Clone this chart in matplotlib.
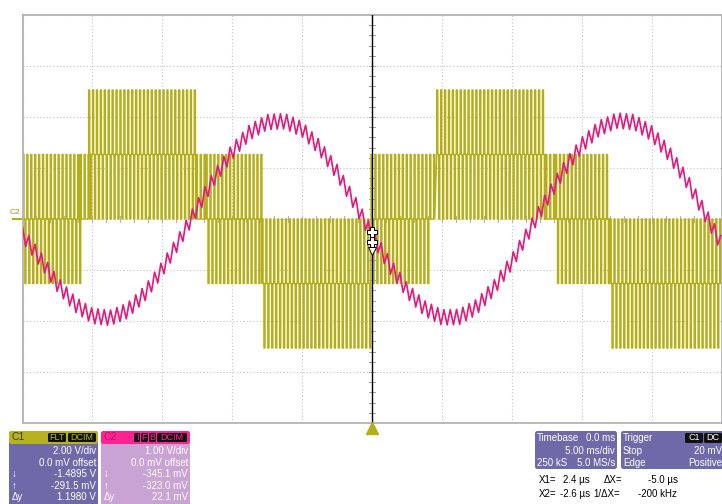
"""Oscilloscope capture: 5-level inverter output (C1) and line current (C2)."""

import matplotlib.pyplot as plt
import numpy as np
from matplotlib.patches import FancyBboxPatch

plt.rcParams["font.family"] = ["Liberation Sans", "DejaVu Sans"]

# scope settings
C1_VOLTS_PER_DIV = 2.0
C2_VOLTS_PER_DIV = 1.0
MS_PER_DIV = 5.0

# C2 (magenta) every 1.25 ms
c2_time_ms = np.arange(-25.0, 25.01, 1.25)
c2_volts = [
    -0.30, -0.78, -1.28, -1.67, -1.90, -1.94, -1.80, -1.46, -0.98, -0.40,
    0.22, 0.82, 1.32, 1.70, 1.90, 1.92, 1.76, 1.40, 0.92, 0.32,
    -0.31, -0.90, -1.40, -1.75, -1.93, -1.92, -1.72, -1.34, -0.84, -0.23,
    0.39, 0.98, 1.45, 1.78, 1.93, 1.90, 1.68, 1.28, 0.76, 0.14,
    -0.50,
]
c2_ripple_v = 0.15
c2_ripple_period_ms = 0.45

# C1 (olive) switching pattern, one row per segment of the screen
c1_level_v = 2.53
c1_seg_start_ms = [-25.0, -20.9, -20.3, -12.6, -11.9, -7.9,
                   -0.1, 4.1, 4.6, 12.4, 13.1, 17.0]
c1_seg_end_ms = c1_seg_start_ms[1:] + [25.0]
c1_seg_base = [0, 0, 1, 0, 0, -1, 0, 0, 1, 0, 0, -1]
c1_seg_up = [1, 1, 2, 1, 1, 0, 1, 1, 2, 1, 1, 0]
c1_seg_down = [-1, 0, 0, 0, -1, -2, -1, 0, 0, 0, -1, -2]
c1_switch_period_ms = 0.28
c1_pulse_ms = 0.08

OLIVE = "#b5ae16"
PINK = "#e3197b"
PANEL = "#6e6aaa"
LILAC = "#c9a3d3"

W, H = 722, 504
fig = plt.figure(figsize=(W / 100, H / 100), dpi=100)
ax = fig.add_axes([22.5 / W, 1 - 423 / H, 699 / W, 408 / H])
ax.set_xlim(-5 * MS_PER_DIV, 5 * MS_PER_DIV)
ax.set_ylim(-4, 4)
ax.set_xticks(np.arange(-25, 26, MS_PER_DIV))
ax.set_yticks(np.arange(-4, 5, 1))
ax.tick_params(length=0, labelbottom=False, labelleft=False)
ax.grid(True, color="#c4c4c4", lw=0.8, ls=(0, (1, 2)))
for sp in ax.spines.values():
    sp.set_color("#b4b4b4")
    sp.set_linewidth(1.3)

# minor ticks on the centre axes
for t in np.arange(-25, 25.01, 1.0):
    ax.plot([t, t], [-0.05, 0.05], color="#b0b0b0", lw=0.7, zorder=1)
for d in np.arange(-4, 4.01, 0.2):
    ax.plot([-0.2, 0.2], [d, d], color="#a0a0a0", lw=0.7, zorder=1)

# C1 trace
t_pts, v_pts = [], []
for start, end, base, up, down in zip(c1_seg_start_ms, c1_seg_end_ms,
                                      c1_seg_base, c1_seg_up, c1_seg_down):
    t = start
    while t < end:
        for frac, lvl in ((0.1, up), (0.6, down)):
            ts = t + frac * c1_switch_period_ms
            if lvl != base and ts < end:
                t_pts += [ts, ts, ts + c1_pulse_ms, ts + c1_pulse_ms]
                v_pts += [base, lvl, lvl, base]
        t += c1_switch_period_ms
c1_div = np.array(v_pts) * c1_level_v / C1_VOLTS_PER_DIV
ax.plot(t_pts, c1_div, color=OLIVE, lw=1.0, zorder=2)

# C2 trace with switching ripple
t_r = np.arange(-25.0, 25.0, c2_ripple_period_ms / 2)
sign = np.where(np.arange(len(t_r)) % 2 == 0, 1, -1)
c2_r = np.interp(t_r, c2_time_ms, c2_volts) + c2_ripple_v * sign
ax.plot(t_r, c2_r / C2_VOLTS_PER_DIV, color=PINK, lw=1.2, zorder=3)

# cursor line, cursor marks, trigger and ground markers
ax.axvline(0, color="black", lw=1.0, zorder=4)
ax.plot([0, 0], [-0.25, -0.45], ls="none", marker="P", ms=7,
        mfc="white", mec="black", mew=0.7, zorder=5)
ax.plot([0], [-0.62], ls="none", marker="v", ms=6,
        mfc="white", mec="black", mew=0.7, zorder=5)
ax.plot([0], [-4.1], marker="^", color=OLIVE, ms=8, clip_on=False, zorder=5)
ax.plot([-25.65, -25.0], [0, 0], color=OLIVE, lw=1.5, clip_on=False)
fig.text(10 / W, 1 - 212 / H, "C2", fontsize=6, color="#a09a20",
         va="center", ha="left")


def box(x0, y0, x1, y1, color, r=2.5):
    fig.add_artist(FancyBboxPatch(
        (x0 / 100, (H - y1) / 100), (x1 - x0) / 100, (y1 - y0) / 100,
        boxstyle=f"round,pad=0,rounding_size={r / 100}",
        transform=fig.dpi_scale_trans, fc=color, ec="none"))


def txt(x, y, s, ha="left", color="white", size=7):
    fig.text(x / W, 1 - y / H, s, ha=ha, va="center", color=color,
             fontsize=size)


# channel panels
for x0, head, body, name, name_c, tags, rows in [
    (9, "#b7b31f", PANEL, "C1", "#3a3810",
     [(48, 66, "FLT"), (68, 96, "DCIM")],
     ["2.00 V/div", "0.0 mV offset", "-1.4895 V", "-291.5 mV", "1.1980 V"]),
    (101, "#ff2392", LILAC, "C2", "#c3106a",
     [(134, 140, "I"), (141, 148, "F"), (149, 156, "B"), (157, 187, "DCIM")],
     ["1.00 V/div", "0.0 mV offset", "-345.1 mV", "-323.0 mV", "22.1 mV"]),
]:
    x1 = x0 + 89
    box(x0, 431, x1, 510, body)
    box(x0, 431, x1, 444, head)
    txt(x0 + 2, 437.5, name, color=name_c, size=7.5)
    for a, b, tag in tags:
        box(a, 433, b, 442, "#111111", r=1.5)
        txt((a + b) / 2, 437.5, tag, ha="center", color=head, size=6.5)
    for i, s in enumerate(rows):
        txt(x1 - 2, 451 + 11.6 * i, s, ha="right")
    for i, s in enumerate(["\u2193", "\u2191", "\u0394y"]):
        txt(x0 + 3, 474 + 11.6 * i, s)

# timebase and trigger panels
box(535, 431, 617, 469, PANEL)
txt(537, 438, "Timebase")
txt(615, 438, "0.0 ms", ha="right")
txt(615, 451, "5.00 ms/div", ha="right")
txt(537, 463, "250 kS")
txt(615, 463, "5.0 MS/s", ha="right")
box(621, 431, 730, 469, PANEL)
txt(623, 438, "Trigger")
box(685, 433, 703, 443, "#111111", r=1.5)
txt(694, 438, "C1", ha="center", size=6.5)
box(704, 433, 722, 443, "#111111", r=1.5)
txt(713, 438, "DC", ha="center", size=6.5)
txt(623, 451, "Stop")
txt(722, 451, "20 mV", ha="right")
txt(623, 463, "Edge")
txt(722, 463, "Positive", ha="right")

# cursor readout
txt(539, 480, "X1=", color="black")
txt(590, 480, "2.4 \u00b5s", ha="right", color="black")
txt(604, 480, "\u0394X=", color="black")
txt(678, 480, "-5.0 \u00b5s", ha="right", color="black")
txt(539, 494, "X2=", color="black")
txt(590, 494, "-2.6 \u00b5s", ha="right", color="black")
txt(593, 494, "1/\u0394X=", color="black")
txt(677, 494, "-200 kHz", ha="right", color="black")

fig.savefig("out.png", dpi=100)
